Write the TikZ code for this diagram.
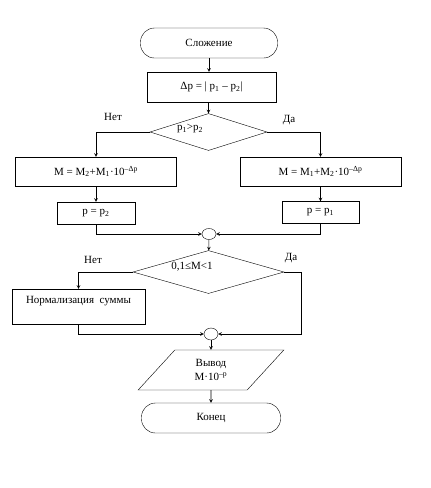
\documentclass[tikz,border=0pt]{standalone}
\usepackage{fontspec}
\setmainfont{Liberation Serif}
\usetikzlibrary{shapes.geometric}

\begin{document}
\begin{tikzpicture}[x=1pt,y=-1pt,>=stealth,
    every node/.style={font=\fontsize{11}{13}\selectfont},
    block/.style={rectangle,draw,inner sep=1pt},
    term/.style={rectangle,draw,rounded corners=14pt,minimum width=137pt,minimum height=30pt},
    cond/.style={diamond,draw,inner sep=0pt},
    joint/.style={ellipse,draw,inner sep=0pt,minimum width=14pt,minimum height=11pt},
    flow/.style={->,semithick}]
    \useasboundingbox (0,0) rectangle (431,488);
    \draw node (start) [term] at (209,43) {Сложение}
          node (dp) [block,minimum width=129pt,minimum height=30pt] at (211.5,87) {Δp = | p\textsubscript{1} – p\textsubscript{2}|}
          node (dec1) [cond,minimum width=117pt,minimum height=37pt] at (208.5,132) {}
          node (mL) [block,minimum width=161pt,minimum height=29pt] at (96,171.5) {M = M\textsubscript{2}+M\textsubscript{1}·10\textsuperscript{–Δp}}
          node (mR) [block,minimum width=161pt,minimum height=29pt] at (320.5,171.5) {M = M\textsubscript{1}+M\textsubscript{2}·10\textsuperscript{–Δp}}
          node (pL) [block,minimum width=78pt,minimum height=22pt] at (96,213) {p = p\textsubscript{2}}
          node (pR) [block,minimum width=77pt,minimum height=22pt] at (320.5,212.5) {p = p\textsubscript{1}}
          node (j1) [joint] at (209,234) {}
          node (dec2) [cond,minimum width=151pt,minimum height=43pt] at (208.5,272) {}
          node (norm) [block,align=center,minimum width=133pt,minimum height=35pt] at (78.5,306.5) {Нормализация\ \ суммы\\ \mbox{}}
          node (j2) [joint,minimum height=12pt] at (211,334) {}
          node (out) [trapezium,draw,trapezium left angle=53,trapezium right angle=127,
                      trapezium stretches=true,minimum width=146pt,minimum height=40pt,align=center,inner sep=1pt] at (211,370) {Вывод\\[1pt]M·10\textsuperscript{–p}}
          node (stop) [term,minimum width=139pt] at (211,418) {Конец};
    % text inside the decisions
    \node (c1) at (190,129) {p\textsubscript{1}>p\textsubscript{2}};
    \node (c2) at (192,267) {0,1≤M<1};
    \node (no1) at (113,117) {Нет};
    \node (yes1) at (289,120) {Да};
    \node (no2) at (93,260) {Нет};
    \node (yes2) at (291,258) {Да};
    \coordinate (yesR) at (301,272);
    \draw[flow] (start.south) -- (start.south |- dp.north);
    \draw[flow] (dp.south -| dec1.north) -- (dec1.north);
    \draw[flow] (dec1.west) -| (mL.north);
    \draw[flow] (dec1.east) -| (mR.north);
    \draw[flow] (mL) -- (pL);
    \draw[flow] (mR.south -| pR.north) -- (pR.north);
    \draw[flow] (pL.south) |- (j1.west);
    \draw[flow] (pR.south) |- (j1.east);
    \draw[flow] (j1) -- (dec2);
    \draw[flow] (dec2.west) -| (norm.north);
    \draw[flow] (dec2.east) -- (yesR) |- (j2.east);
    \draw[flow] (norm.south) |- (j2.west);
    \draw[flow] (j2) -- (out);
    \draw[flow] (out) -- (stop);
\end{tikzpicture}
\end{document}
